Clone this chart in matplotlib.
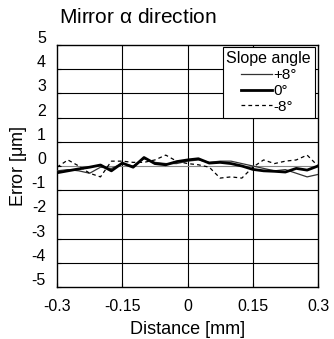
import numpy as np
import matplotlib
matplotlib.use('Agg')
import matplotlib.pyplot as plt
import matplotlib.transforms as mtransforms

plt.rcParams['font.family'] = ['Liberation Sans', 'DejaVu Sans']
plt.rcParams['mathtext.fontset'] = 'custom'
plt.rcParams['mathtext.rm'] = 'Liberation Sans'

# distance [mm], 0.025 mm step
distance = np.linspace(-0.3, 0.3, 25)

err_plus8 = [-0.2, -0.15, -0.2, -0.3, -0.05, -0.1, 0.1, 0.0, 0.3, 0.15, 0.1, 0.1, 0.2,
             0.25, 0.15, 0.2, 0.2, 0.1, 0.0, -0.1, -0.2, -0.15, -0.3, -0.45, -0.35]
err_zero = [-0.28, -0.2, -0.12, -0.05, 0.04, -0.2, 0.12, -0.05, 0.35, 0.1, 0.05, 0.18, 0.25,
            0.3, 0.12, 0.15, 0.1, 0.0, -0.14, -0.2, -0.22, -0.25, -0.1, -0.17, 0.0]
err_minus8 = [-0.05, 0.25, 0.0, -0.3, -0.45, 0.2, 0.2, 0.15, 0.15, 0.25, 0.45, 0.2, 0.1,
              0.05, -0.05, -0.5, -0.45, -0.5, -0.05, 0.25, 0.1, 0.2, 0.25, 0.45, 0.0]

xticks = [-0.3, -0.15, 0, 0.15, 0.3]
xticklabels = ['-0.3', '-0.15', '0', '0.15', '0.3']
yticks = list(range(-5, 6))

fig = plt.figure(figsize=(3.34, 3.39), dpi=100)
ax = fig.add_axes([0.1707, 0.1534, 0.7814, 0.7139])

ax.set_xlim(-0.3, 0.3)
ax.set_ylim(-5, 5)
ax.set_xticks(xticks)
ax.set_xticklabels(xticklabels, fontsize=11.5)
ax.set_yticks(yticks)
ax.set_yticklabels([str(v) for v in yticks], fontsize=11.5)

for v in xticks[1:-1]:
    ax.axvline(v, color='black', lw=0.8, zorder=1)
for v in yticks[1:-1]:
    c = '#888888' if v == 0 else 'black'
    ax.axhline(v, color=c, lw=0.8, zorder=1)

ax.plot(distance, err_plus8, color='#333333', lw=0.9, label='+8°', zorder=3)
ax.plot(distance, err_zero, color='black', lw=2.0, label='0°', zorder=4)
ax.plot(distance, err_minus8, color='black', lw=0.9, ls=(0, (3, 2.5)), label='-8°', zorder=3)

ax.tick_params(axis='x', length=3, width=0.8, direction='in', pad=9)
ax.tick_params(axis='y', length=3, width=0.8, direction='in', pad=8)
# y tick labels sit slightly above their grid lines in the original
offset = mtransforms.ScaledTranslation(0, 8 / 100, fig.dpi_scale_trans)
for lbl in ax.get_yticklabels():
    lbl.set_transform(lbl.get_transform() + offset)

for s in ax.spines.values():
    s.set_linewidth(1.0)

ax.set_xlabel('Distance [mm]', fontsize=13, labelpad=5)
ax.set_ylabel(r'Error [$\mathrm{\mu}$m]', fontsize=13, labelpad=2)
fig.text(0.178, 0.947, r'Mirror $\mathrm{\alpha}$ direction', fontsize=15, ha='left', va='center')

leg = ax.legend(title='Slope angle', loc='upper right', bbox_to_anchor=(0.988, 0.99),
                fontsize=11, title_fontsize=11.5, frameon=True, fancybox=False,
                handlelength=2.0, handletextpad=0.1, borderpad=0.25, labelspacing=0.12,
                borderaxespad=0.0)
leg.get_frame().set_edgecolor('black')
leg.get_frame().set_linewidth(0.8)
leg.get_frame().set_alpha(1)
leg.set_zorder(10)

fig.savefig('out.png', dpi=100)
